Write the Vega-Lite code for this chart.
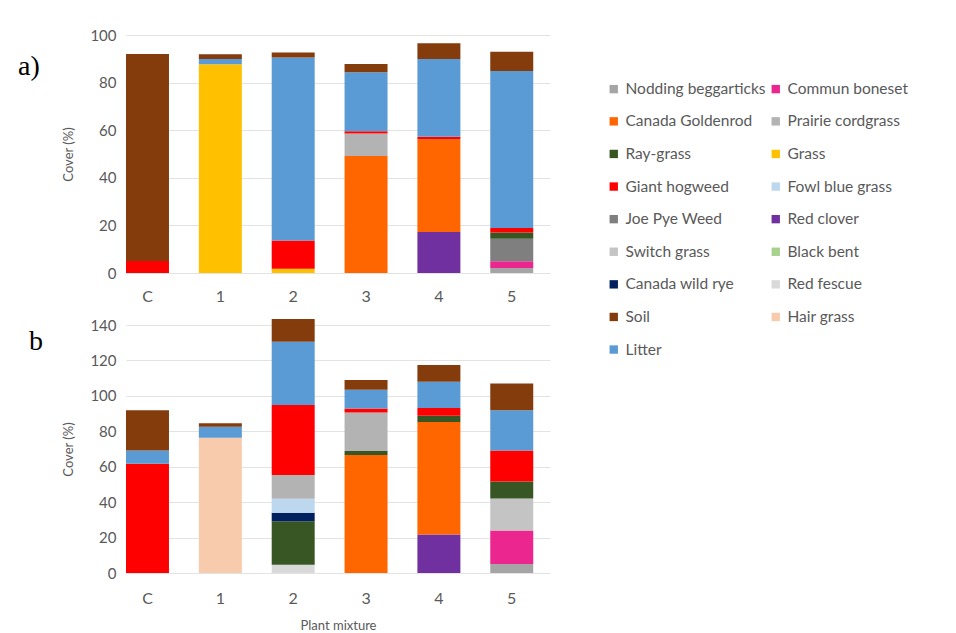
{
  "$schema": "https://vega.github.io/schema/vega-lite/v6.json",
  "padding": {"left": 18, "top": 28, "right": 5, "bottom": 5},
  "background": "white",
  "datasets": {
    "cover": [
      {"panel": "a", "mixture": "C", "species": "Giant hogweed", "cover": 5.0, "rank": 11},
      {"panel": "a", "mixture": "C", "species": "Soil", "cover": 87.0, "rank": 13},
      {"panel": "a", "mixture": "1", "species": "Grass", "cover": 87.7, "rank": 4},
      {"panel": "a", "mixture": "1", "species": "Litter", "cover": 2.2, "rank": 12},
      {"panel": "a", "mixture": "1", "species": "Soil", "cover": 2.0, "rank": 13},
      {"panel": "a", "mixture": "2", "species": "Grass", "cover": 1.8, "rank": 4},
      {"panel": "a", "mixture": "2", "species": "Giant hogweed", "cover": 11.9, "rank": 11},
      {"panel": "a", "mixture": "2", "species": "Litter", "cover": 76.8, "rank": 12},
      {"panel": "a", "mixture": "2", "species": "Soil", "cover": 2.1, "rank": 13},
      {"panel": "a", "mixture": "3", "species": "Canada Goldenrod", "cover": 49.2, "rank": 5},
      {"panel": "a", "mixture": "3", "species": "Prairie cordgrass", "cover": 9.4, "rank": 10},
      {"panel": "a", "mixture": "3", "species": "Giant hogweed", "cover": 1.0, "rank": 11},
      {"panel": "a", "mixture": "3", "species": "Litter", "cover": 24.7, "rank": 12},
      {"panel": "a", "mixture": "3", "species": "Soil", "cover": 3.5, "rank": 13},
      {"panel": "a", "mixture": "4", "species": "Red clover", "cover": 17.2, "rank": 3},
      {"panel": "a", "mixture": "4", "species": "Canada Goldenrod", "cover": 39.0, "rank": 5},
      {"panel": "a", "mixture": "4", "species": "Giant hogweed", "cover": 1.0, "rank": 11},
      {"panel": "a", "mixture": "4", "species": "Litter", "cover": 32.7, "rank": 12},
      {"panel": "a", "mixture": "4", "species": "Soil", "cover": 6.6, "rank": 13},
      {"panel": "a", "mixture": "5", "species": "Nodding beggarticks", "cover": 2.1, "rank": 1},
      {"panel": "a", "mixture": "5", "species": "Commun boneset", "cover": 2.8, "rank": 2},
      {"panel": "a", "mixture": "5", "species": "Joe Pye Weed", "cover": 9.5, "rank": 6},
      {"panel": "a", "mixture": "5", "species": "Ray-grass", "cover": 2.6, "rank": 7},
      {"panel": "a", "mixture": "5", "species": "Giant hogweed", "cover": 1.9, "rank": 11},
      {"panel": "a", "mixture": "5", "species": "Litter", "cover": 66.0, "rank": 12},
      {"panel": "a", "mixture": "5", "species": "Soil", "cover": 8.1, "rank": 13},
      {"panel": "b", "mixture": "C", "species": "Giant hogweed", "cover": 61.7, "rank": 11},
      {"panel": "b", "mixture": "C", "species": "Litter", "cover": 7.5, "rank": 12},
      {"panel": "b", "mixture": "C", "species": "Soil", "cover": 22.7, "rank": 13},
      {"panel": "b", "mixture": "1", "species": "Hair grass", "cover": 76.4, "rank": 4},
      {"panel": "b", "mixture": "1", "species": "Litter", "cover": 6.1, "rank": 12},
      {"panel": "b", "mixture": "1", "species": "Soil", "cover": 2.0, "rank": 13},
      {"panel": "b", "mixture": "2", "species": "Red fescue", "cover": 4.7, "rank": 1},
      {"panel": "b", "mixture": "2", "species": "Ray-grass", "cover": 24.5, "rank": 7},
      {"panel": "b", "mixture": "2", "species": "Canada wild rye", "cover": 4.8, "rank": 8},
      {"panel": "b", "mixture": "2", "species": "Fowl blue grass", "cover": 7.9, "rank": 9},
      {"panel": "b", "mixture": "2", "species": "Prairie cordgrass", "cover": 13.4, "rank": 10},
      {"panel": "b", "mixture": "2", "species": "Giant hogweed", "cover": 39.6, "rank": 11},
      {"panel": "b", "mixture": "2", "species": "Litter", "cover": 35.7, "rank": 12},
      {"panel": "b", "mixture": "2", "species": "Soil", "cover": 12.8, "rank": 13},
      {"panel": "b", "mixture": "3", "species": "Canada Goldenrod", "cover": 66.6, "rank": 5},
      {"panel": "b", "mixture": "3", "species": "Ray-grass", "cover": 2.3, "rank": 7},
      {"panel": "b", "mixture": "3", "species": "Prairie cordgrass", "cover": 21.7, "rank": 10},
      {"panel": "b", "mixture": "3", "species": "Giant hogweed", "cover": 2.2, "rank": 11},
      {"panel": "b", "mixture": "3", "species": "Litter", "cover": 10.6, "rank": 12},
      {"panel": "b", "mixture": "3", "species": "Soil", "cover": 5.5, "rank": 13},
      {"panel": "b", "mixture": "4", "species": "Red clover", "cover": 21.7, "rank": 3},
      {"panel": "b", "mixture": "4", "species": "Canada Goldenrod", "cover": 63.6, "rank": 5},
      {"panel": "b", "mixture": "4", "species": "Ray-grass", "cover": 3.4, "rank": 7},
      {"panel": "b", "mixture": "4", "species": "Giant hogweed", "cover": 4.5, "rank": 11},
      {"panel": "b", "mixture": "4", "species": "Litter", "cover": 14.7, "rank": 12},
      {"panel": "b", "mixture": "4", "species": "Soil", "cover": 9.5, "rank": 13},
      {"panel": "b", "mixture": "5", "species": "Nodding beggarticks", "cover": 5.1, "rank": 1},
      {"panel": "b", "mixture": "5", "species": "Commun boneset", "cover": 18.9, "rank": 2},
      {"panel": "b", "mixture": "5", "species": "Switch grass", "cover": 18.1, "rank": 6},
      {"panel": "b", "mixture": "5", "species": "Ray-grass", "cover": 9.6, "rank": 7},
      {"panel": "b", "mixture": "5", "species": "Giant hogweed", "cover": 17.5, "rank": 11},
      {"panel": "b", "mixture": "5", "species": "Litter", "cover": 22.7, "rank": 12},
      {"panel": "b", "mixture": "5", "species": "Soil", "cover": 15.1, "rank": 13}
    ]
  },
  "vconcat": [
    {
      "width": 424,
      "height": 238,
      "title": {"text": "a)", "font": "Liberation Serif", "fontSize": 28, "fontWeight": "normal", "color": "#000000", "anchor": "start", "frame": "group", "orient": "top", "offset": 0, "dx": -108, "dy": 53},
      "data": {"name": "cover"},
      "transform": [{"filter": "datum.panel === 'a'"}],
      "mark": {"type": "bar", "strokeWidth": 0},
      "encoding": {
        "x": {"field": "mixture", "type": "nominal", "sort": ["C", "1", "2", "3", "4", "5"],
              "scale": {"paddingInner": 0.41, "paddingOuter": 0.115, "align": 0},
              "axis": {"title": null, "labelAngle": 0, "ticks": false, "domain": false, "labelPadding": 15, "labelFontSize": 16}},
        "y": {"field": "cover", "type": "quantitative", "stack": "zero",
              "scale": {"domain": [0, 100], "nice": false},
              "axis": {"title": "Cover (%)", "values": [0, 20, 40, 60, 80, 100], "titlePadding": 14}},
        "color": {"field": "species", "type": "nominal",
                  "scale": {
                    "domain": ["Nodding beggarticks", "Commun boneset", "Canada Goldenrod", "Prairie cordgrass", "Ray-grass", "Grass", "Giant hogweed", "Fowl blue grass", "Joe Pye Weed", "Red clover", "Switch grass", "Black bent", "Canada wild rye", "Red fescue", "Soil", "Hair grass", "Litter"],
                    "range": ["#a5a5a5", "#ec268f", "#ff6600", "#b3b3b3", "#375623", "#ffc000", "#ff0000", "#bdd7ee", "#7f7f7f", "#7030a0", "#c4c4c4", "#a9d18e", "#002060", "#d9d9d9", "#843c0c", "#f8cbad", "#5b9bd5"]
                  },
                  "legend": {"title": null, "orient": "none", "legendX": 480, "legendY": 46, "columns": 2, "direction": "horizontal"}},
        "order": {"field": "rank", "type": "quantitative", "sort": "ascending"}
      }
    },
    {
      "width": 424,
      "height": 248,
      "title": {"text": "b", "font": "Liberation Serif", "fontSize": 28, "fontWeight": "normal", "color": "#000000", "anchor": "start", "frame": "group", "orient": "top", "offset": 0, "dx": -97, "dy": 38},
      "data": {"name": "cover"},
      "transform": [{"filter": "datum.panel === 'b'"}],
      "mark": {"type": "bar", "strokeWidth": 0},
      "encoding": {
        "x": {"field": "mixture", "type": "nominal", "sort": ["C", "1", "2", "3", "4", "5"],
              "scale": {"paddingInner": 0.41, "paddingOuter": 0.115, "align": 0},
              "axis": {"title": "Plant mixture", "labelAngle": 0, "ticks": false, "domain": false, "labelPadding": 17, "labelFontSize": 16, "titlePadding": 13}},
        "y": {"field": "cover", "type": "quantitative", "stack": "zero",
              "scale": {"domain": [0, 140], "nice": false},
              "axis": {"title": "Cover (%)", "values": [0, 20, 40, 60, 80, 100, 120, 140], "titlePadding": 14}},
        "color": {"field": "species", "type": "nominal"},
        "order": {"field": "rank", "type": "quantitative", "sort": "ascending"}
      }
    }
  ],
  "spacing": 14,
  "config": {
    "view": {"stroke": null},
    "font": "Lato",
    "axis": {"labelFont": "Lato", "labelFontSize": 15, "labelColor": "#595959", "titleFont": "Lato", "titleFontSize": 13, "titleFontWeight": "normal", "titleColor": "#595959", "gridColor": "#e3e3e3", "domain": false, "ticks": false, "labelPadding": 10},
    "axisX": {"grid": false},
    "legend": {"labelFont": "Lato", "labelFontSize": 15.5, "labelColor": "#595959", "symbolType": "square", "symbolSize": 70, "symbolStrokeWidth": 0, "rowPadding": 15.6, "columnPadding": 2, "labelLimit": 300, "labelOffset": 4}
  }
}
